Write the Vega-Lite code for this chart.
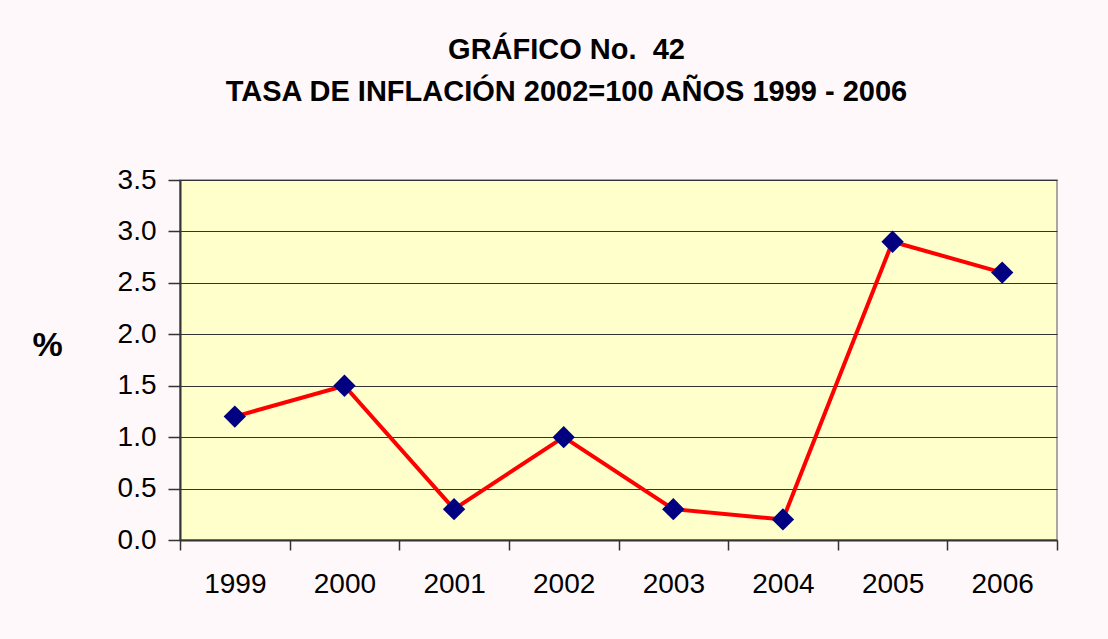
{
  "$schema": "https://vega.github.io/schema/vega-lite/v6.json",
  "autosize": {"type": "none"},
  "width": 877,
  "height": 360,
  "padding": {"left": 180, "top": 180, "right": 51, "bottom": 99},
  "background": "#fff8fb",
  "title": {
    "text": ["GRÁFICO No.\u00a0 42", "TASA DE INFLACIÓN 2002=100 AÑOS 1999 - 2006"],
    "font": "Liberation Sans",
    "fontSize": 29,
    "fontWeight": "bold",
    "color": "#000000",
    "anchor": "middle",
    "dx": -52,
    "offset": 59,
    "lineHeight": 42
  },
  "config": {
    "view": {"fill": "#ffffcc", "stroke": "#8c8c8c", "strokeWidth": 1.5},
    "font": "Liberation Sans"
  },
  "data": {
    "values": [
      {"year": "1999", "value": 1.2},
      {"year": "2000", "value": 1.5},
      {"year": "2001", "value": 0.3},
      {"year": "2002", "value": 1.0},
      {"year": "2003", "value": 0.3},
      {"year": "2004", "value": 0.2},
      {"year": "2005", "value": 2.9},
      {"year": "2006", "value": 2.6}
    ]
  },
  "encoding": {
    "x": {
      "field": "year",
      "type": "ordinal",
      "scale": {"type": "band", "paddingInner": 0, "paddingOuter": 0},
      "axis": {
        "title": null,
        "labelAngle": 0,
        "labelFontSize": 28,
        "labelColor": "#000000",
        "labelFont": "Liberation Sans",
        "labelPadding": 20,
        "tickBand": "extent",
        "tickSize": 10,
        "tickColor": "#333333",
        "tickWidth": 1.5,
        "domainColor": "#333333",
        "domainWidth": 2,
        "grid": false
      }
    },
    "y": {
      "field": "value",
      "type": "quantitative",
      "scale": {"domain": [0, 3.5], "nice": false, "zero": true},
      "axis": {
        "title": "%",
        "titleAngle": 0,
        "titleFontSize": 34,
        "titleFontWeight": "bold",
        "titleFont": "Liberation Sans",
        "titleColor": "#000000",
        "titleX": -133,
        "titleY": 165,
        "titleAlign": "center",
        "titleBaseline": "middle",
        "values": [0, 0.5, 1, 1.5, 2, 2.5, 3, 3.5],
        "format": ".1f",
        "labelFontSize": 28,
        "labelColor": "#000000",
        "labelFont": "Liberation Sans",
        "labelPadding": 12,
        "tickSize": 12,
        "tickColor": "#333333",
        "tickWidth": 1.5,
        "domainColor": "#333333",
        "domainWidth": 2,
        "grid": true,
        "gridColor": "#333333",
        "gridOpacity": 1,
        "gridWidth": 1.2
      }
    }
  },
  "layer": [
    {"mark": {"type": "line", "color": "#ff0000", "strokeWidth": 4}},
    {"mark": {"type": "point", "shape": "diamond", "filled": true, "color": "#000080", "size": 500, "opacity": 1}}
  ]
}
